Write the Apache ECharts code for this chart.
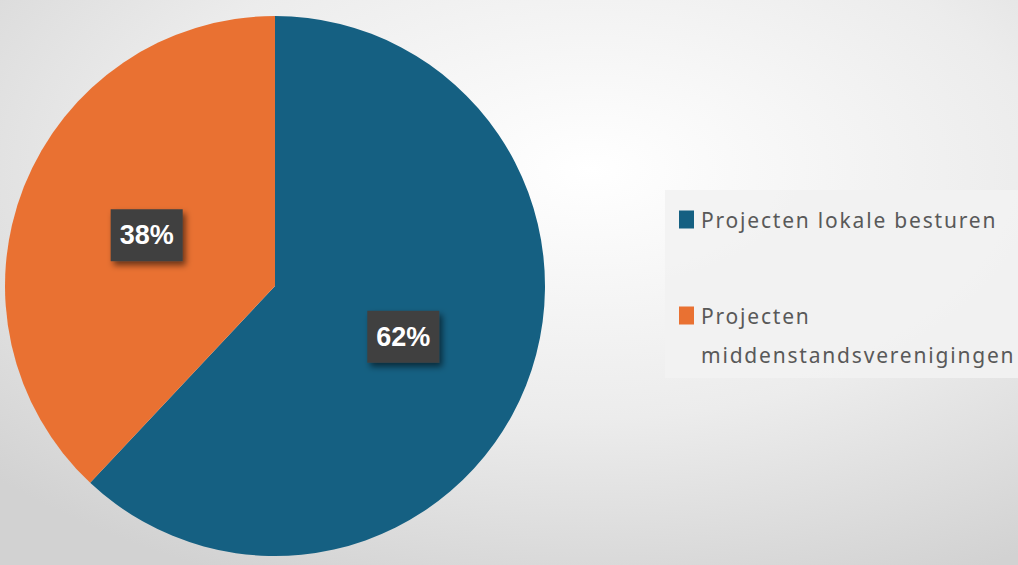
<!DOCTYPE html>
<html>
<head>
<meta charset="utf-8">
<script src="https://cdn.jsdelivr.net/npm/echarts@6/dist/echarts.min.js"></script>
<style>
html,body{margin:0;padding:0;width:1018px;height:565px;overflow:hidden;}
#c{width:1018px;height:565px;}
#c text[fill="#595959"], #c text[fill="rgb(89,89,89)"]{letter-spacing:1.8px;}
</style>
</head>
<body>
<div id="c"></div>
<script>
const categories = ['Projecten lokale besturen', 'Projecten middenstandsverenigingen'];
const legendLabels = ['Projecten lokale besturen', '\nProjecten\nmiddenstandsverenigingen'];
const values = [62, 38];
const colors = ['#156082', '#E97132'];

const chart = echarts.init(document.getElementById('c'), null, {renderer: 'svg'});
chart.setOption({
  backgroundColor: {
    type: 'radial', x: 0.58, y: 0.3, r: 0.8,
    colorStops: [
      {offset: 0, color: '#ffffff'},
      {offset: 0.55, color: '#ececec'},
      {offset: 1, color: '#d2d2d2'}
    ]
  },
  animation: false,
  color: colors,
  legend: {
    orient: 'vertical',
    left: 665,
    top: 190,
    backgroundColor: 'rgba(242,242,242,0.9)',
    padding: [10, 70, 4, 14],
    itemGap: 18,
    icon: 'rect',
    itemWidth: 15,
    itemHeight: 18,
    textStyle: {
      fontFamily: 'Noto Sans',
      fontSize: 21,
      color: '#595959',
      lineHeight: 39,
      padding: [0, 0, 0, 2]
    },
    formatter: function (name) {
      return legendLabels[categories.indexOf(name)];
    },
    data: categories
  },
  series: [{
    type: 'pie',
    center: [275, 286],
    radius: [0, 270],
    startAngle: 90,
    clockwise: true,
    label: {
      show: true,
      position: 'inside',
      formatter: '{c}%',
      color: '#ffffff',
      fontFamily: 'Liberation Sans',
      fontWeight: 'bold',
      fontSize: 27,
      backgroundColor: '#404040',
      padding: [12, 9, 12, 9],
      lineHeight: 28,
      shadowColor: 'rgba(0,0,0,0.55)',
      shadowBlur: 6,
      shadowOffsetX: 3,
      shadowOffsetY: 4
    },
    labelLine: {show: false},
    emphasis: {disabled: true},
    itemStyle: {borderWidth: 0},
    data: categories.map((n, i) => ({name: n, value: values[i]}))
  }]
});
</script>
</body>
</html>
